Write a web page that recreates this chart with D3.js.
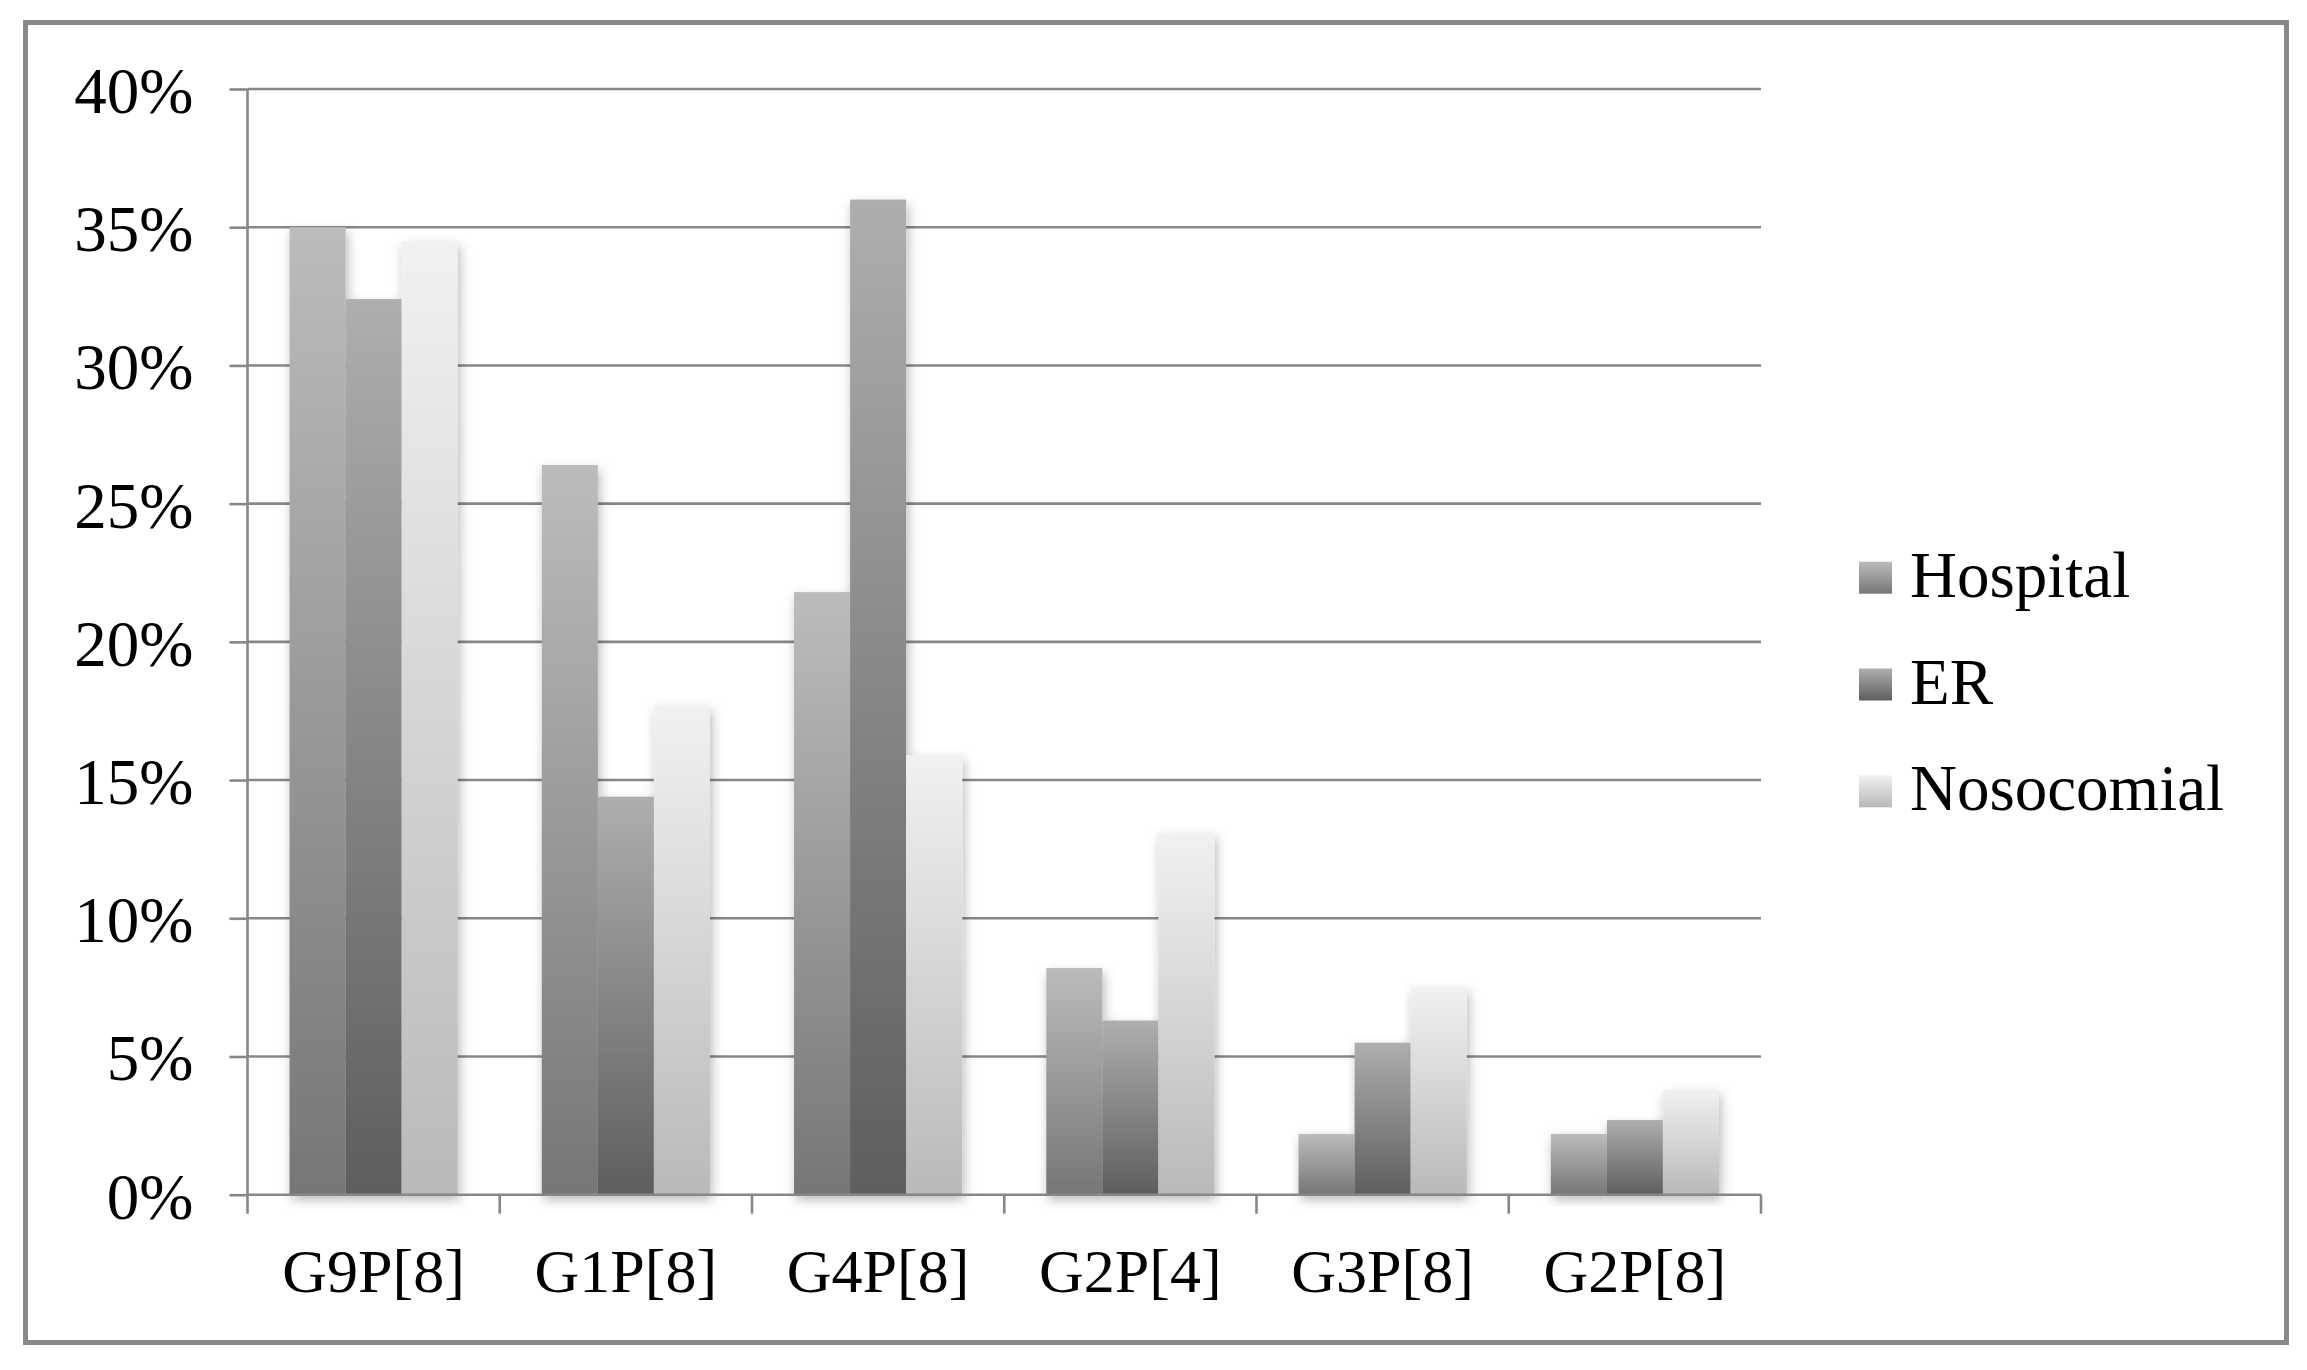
<!DOCTYPE html>
<html><head><meta charset="utf-8">
<script src="https://cdn.jsdelivr.net/npm/d3@7"></script>
<style>html,body{margin:0;padding:0;background:#fff;} svg{display:block;}</style>
</head><body><svg id="chart" width="2307" height="1370"></svg>
<script>
const categories = ["G9P[8]","G1P[8]","G4P[8]","G2P[4]","G3P[8]","G2P[8]"];
const seriesNames = ["Hospital","ER","Nosocomial"];
const hospital   = [35.0, 26.4, 21.8, 8.2, 2.2, 2.2];
const er         = [32.4, 14.4, 36.0, 6.3, 5.5, 2.7];
const nosocomial = [34.5, 17.7, 15.9, 13.1, 7.5, 3.8];
const yTicks = [0, 5, 10, 15, 20, 25, 30, 35, 40];

const seriesValues = [hospital, er, nosocomial];
const gradStops = [["#bcbcbc","#767676"],["#aeaeae","#5e5e5e"],["#f1f1f1","#b9b9b9"]];
const FONT = "'Liberation Serif', 'Times New Roman', serif";
const GRID = "#878787";

const svg = d3.select("#chart");
const defs = svg.append("defs");
gradStops.forEach((s,i)=>{
  const g = defs.append("linearGradient").attr("id","grad"+i)
    .attr("x1",0).attr("y1",0).attr("x2",0).attr("y2",1);
  g.append("stop").attr("offset","0%").attr("stop-color",s[0]);
  g.append("stop").attr("offset","100%").attr("stop-color",s[1]);
});
const f = defs.append("filter").attr("id","shadow")
  .attr("x","-20%").attr("y","-10%").attr("width","140%").attr("height","120%");
f.append("feDropShadow").attr("dx",2).attr("dy",5).attr("stdDeviation",6)
  .attr("flood-color","#000").attr("flood-opacity",0.28);

// outer border
svg.append("rect").attr("x",25.5).attr("y",22.5).attr("width",2261).attr("height",1320)
  .attr("fill","#fff").attr("stroke","#898989").attr("stroke-width",5);

const x0 = 247.5, x1 = 1761, yBot = 1194.7, yTop = 89;
const x = d3.scaleBand().domain(categories).range([x0, x1]).padding(0);
const xs = d3.scaleBand().domain(seriesNames).range([0, x.bandwidth()]).paddingInner(0).paddingOuter(0.75);
const y = d3.scaleLinear().domain([0, 40]).range([yBot, yTop]);

// gridlines
svg.append("g").selectAll("line").data(yTicks.filter(d=>d>0)).join("line")
  .attr("x1", x0).attr("x2", x1).attr("y1", d=>y(d)).attr("y2", d=>y(d))
  .attr("stroke", GRID).attr("stroke-width", 2.6);

// bars
const groups = svg.append("g").selectAll("g").data(categories).join("g")
  .attr("transform", d=>`translate(${x(d)},0)`)
  .attr("filter","url(#shadow)");
groups.selectAll("rect").data((c,ci)=>seriesNames.map((s,si)=>({s,si,v:seriesValues[si][ci]}))).join("rect")
  .attr("x", d=>xs(d.s)).attr("width", xs.bandwidth())
  .attr("y", d=>y(d.v)).attr("height", d=>yBot - y(d.v))
  .attr("fill", d=>`url(#grad${d.si})`);

// y axis
const yAxis = svg.append("g").attr("transform",`translate(${x0},0)`)
  .call(d3.axisLeft(y).tickValues(yTicks).tickFormat(d=>d+"%").tickSize(18).tickPadding(18));
yAxis.select(".domain").attr("stroke",GRID).attr("stroke-width",2.6).attr("d",`M0,${yTop}V${yBot}`);
yAxis.selectAll(".tick line").attr("stroke",GRID).attr("stroke-width",2.6);
yAxis.selectAll(".tick text").attr("font-family",FONT).attr("font-size",65).attr("fill","#000")
  .attr("dy", "0.36em").attr("x",-54);

// x axis
const xAxis = svg.append("g").attr("transform",`translate(0,${yBot})`)
  .call(d3.axisBottom(x).tickSize(0).tickPadding(0));
xAxis.select(".domain").attr("stroke",GRID).attr("stroke-width",2.6).attr("d",`M${x0},0H${x1}`);
xAxis.selectAll(".tick text").attr("font-family",FONT).attr("font-size",62).attr("fill","#000")
  .attr("y", 97).attr("dy", 0);
const bounds = categories.map(c=>x(c)).concat([x1]);
xAxis.append("g").selectAll("line").data(bounds).join("line")
  .attr("x1",d=>d).attr("x2",d=>d).attr("y1",0).attr("y2",19)
  .attr("stroke",GRID).attr("stroke-width",2.6);

// legend
const leg = svg.append("g").attr("transform","translate(1859,0)");
const legRow = leg.selectAll("g").data(seriesNames).join("g")
  .attr("transform",(d,i)=>`translate(0,${596.7 + i*106.8})`);
legRow.append("rect").attr("x",0).attr("y",-35).attr("width",33).attr("height",32)
  .attr("fill",(d,i)=>`url(#grad${i})`);
legRow.append("text").attr("x",51).attr("y",0).text(d=>d)
  .attr("font-family",FONT).attr("font-size",65).attr("fill","#000");
</script></body></html>
